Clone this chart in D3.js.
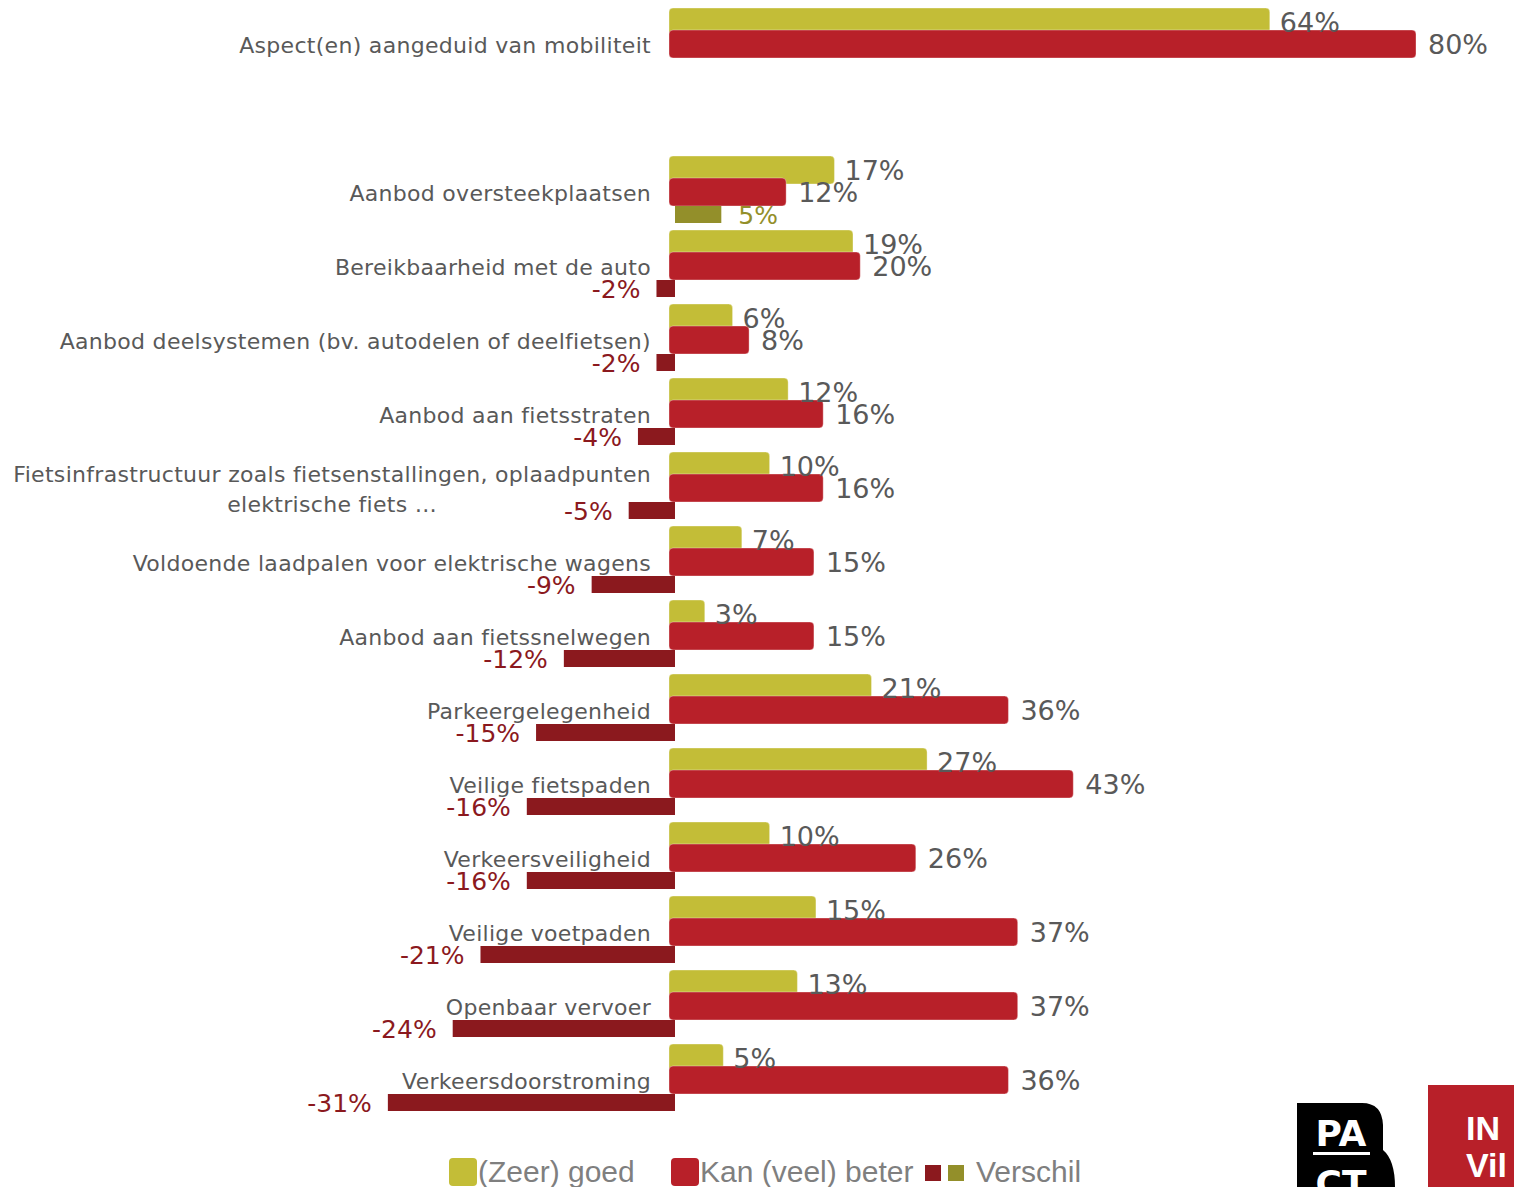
<!DOCTYPE html>
<html>
<head>
<meta charset="utf-8">
<script src="https://cdn.jsdelivr.net/npm/d3@7"></script>
<style>
  html, body { margin: 0; padding: 0; background: #fff; }
  svg { display: block; }
</style>
</head>
<body>
<svg id="chart" width="1514" height="1187"></svg>
<script>
// ---- Data ----
const categories = [
  "Aspect(en) aangeduid van mobiliteit",
  "Aanbod oversteekplaatsen",
  "Bereikbaarheid met de auto",
  "Aanbod deelsystemen (bv. autodelen of deelfietsen)",
  "Aanbod aan fietsstraten",
  "Fietsinfrastructuur zoals fietsenstallingen, oplaadpunten|elektrische fiets …",
  "Voldoende laadpalen voor elektrische wagens",
  "Aanbod aan fietssnelwegen",
  "Parkeergelegenheid",
  "Veilige fietspaden",
  "Verkeersveiligheid",
  "Veilige voetpaden",
  "Openbaar vervoer",
  "Verkeersdoorstroming"
];
const goed   = [64, 17, 19, 6, 12, 10, 7, 3, 21, 27, 10, 15, 13, 5];
const beter  = [80, 12, 20, 8, 16, 16, 15, 15, 36, 43, 26, 37, 37, 36];
const verschil = [null, 5, -2, -2, -4, -5, -9, -12, -15, -16, -16, -21, -24, -31];
const legendLabels = ["(Zeer) goed", "Kan (veel) beter", "Verschil"];

// ---- Styles ----
const C_GOED = "#C3BD37";
const C_BETER = "#B82029";
const C_NEG = "#8B191E";
const C_POS = "#938F2A";
const C_TEXT = "#595959";

const svg = d3.select("#chart");

// rows: first category, then one empty spacer row, then the rest
const rowKeys = [categories[0], "__gap__", ...categories.slice(1)];
const y = d3.scaleBand().domain(rowKeys).range([8, 8 + 74 * rowKeys.length]).padding(0);
const x = d3.scaleLinear().domain([0, 80]).range([675, 1416]);

const data = categories.map((c, i) => ({ cat: c, goed: goed[i], beter: beter[i], diff: verschil[i] }));

const g = svg.append("g");

const rows = g.selectAll("g.row").data(data).join("g")
  .attr("class", "row")
  .attr("transform", d => `translate(0,${y(d.cat)})`);

// goed bars
rows.append("rect")
  .attr("x", x(0) - 6)
  .attr("y", 0)
  .attr("width", d => x(d.goed) - x(0) + 8)
  .attr("height", 28)
  .attr("rx", 4)
  .attr("fill", C_GOED)
  .attr("stroke", "rgba(255,255,255,0.35)")
  .attr("stroke-width", 1);

// beter bars
rows.append("rect")
  .attr("x", x(0) - 6)
  .attr("y", 22)
  .attr("width", d => x(d.beter) - x(0) + 6)
  .attr("height", 28)
  .attr("rx", 4)
  .attr("fill", C_BETER)
  .attr("stroke", "rgba(255,255,255,0.35)")
  .attr("stroke-width", 1);

// diff bars
rows.filter(d => d.diff !== null).append("rect")
  .attr("x", d => Math.min(x(0), x(d.diff)))
  .attr("y", 50)
  .attr("width", d => Math.abs(x(d.diff) - x(0)))
  .attr("height", 17)
  .attr("fill", d => d.diff < 0 ? C_NEG : C_POS);

// value labels
rows.append("text")
  .attr("x", d => x(d.goed) + 12)
  .attr("y", 14)
  .attr("dy", "0.36em")
  .attr("font-family", "DejaVu Sans")
  .attr("font-size", 27)
  .attr("fill", C_TEXT)
  .text(d => d.goed + "%");

rows.append("text")
  .attr("x", d => x(d.beter) + 12)
  .attr("y", 36)
  .attr("dy", "0.36em")
  .attr("font-family", "DejaVu Sans")
  .attr("font-size", 27)
  .attr("fill", C_TEXT)
  .text(d => d.beter + "%");

rows.filter(d => d.diff !== null).append("text")
  .attr("x", d => d.diff < 0 ? x(d.diff) - 16 : x(d.diff) + 17)
  .attr("y", 58.5)
  .attr("dy", "0.36em")
  .attr("text-anchor", d => d.diff < 0 ? "end" : "start")
  .attr("font-family", "DejaVu Sans")
  .attr("font-size", 25)
  .attr("fill", d => d.diff < 0 ? C_NEG : C_POS)
  .text(d => d.diff + "%");

// category labels
rows.each(function(d) {
  const sel = d3.select(this);
  const lines = d.cat.split("|");
  const fontAttrs = t => t.attr("font-family", "DejaVu Sans").attr("font-size", 22)
    .attr("letter-spacing", 0.3).attr("fill", C_TEXT);
  if (lines.length === 1) {
    sel.append("text").call(fontAttrs)
      .attr("x", 651).attr("y", 37).attr("dy", "0.36em")
      .attr("text-anchor", "end").text(lines[0]);
  } else {
    const t1 = sel.append("text").call(fontAttrs)
      .attr("x", 651).attr("y", 22).attr("dy", "0.36em")
      .attr("text-anchor", "end").text(lines[0]);
    const w = t1.node().getComputedTextLength();
    sel.append("text").call(fontAttrs)
      .attr("x", 651 - w / 2).attr("y", 52).attr("dy", "0.36em")
      .attr("text-anchor", "middle").text(lines[1]);
  }
});

// ---- Legend ----
const lg = svg.append("g");
lg.append("rect").attr("x", 449).attr("y", 1158).attr("width", 28).attr("height", 28).attr("rx", 4).attr("fill", C_GOED);
lg.append("text").attr("x", 478).attr("y", 1182).attr("font-family", "Liberation Sans").attr("font-size", 30).attr("fill", "#7F7F7F").text(legendLabels[0]);
lg.append("rect").attr("x", 671).attr("y", 1158).attr("width", 28).attr("height", 28).attr("rx", 4).attr("fill", C_BETER);
lg.append("text").attr("x", 700).attr("y", 1182).attr("font-family", "Liberation Sans").attr("font-size", 30).attr("fill", "#7F7F7F").text(legendLabels[1]);
lg.append("rect").attr("x", 925).attr("y", 1165).attr("width", 16).attr("height", 16).attr("fill", C_NEG);
lg.append("rect").attr("x", 948).attr("y", 1165).attr("width", 16).attr("height", 16).attr("fill", C_POS);
lg.append("text").attr("x", 976).attr("y", 1182).attr("font-family", "Liberation Sans").attr("font-size", 30).attr("fill", "#7F7F7F").text(legendLabels[2]);

// ---- Logos ----
const logo = svg.append("g");
logo.append("path")
  .attr("d", "M1297,1103 L1362,1103 Q1382,1103 1383,1125 L1383,1150 Q1395,1160 1395,1187 L1297,1187 Z")
  .attr("fill", "#000");
logo.append("text").attr("x", 1341).attr("y", 1146).attr("text-anchor", "middle")
  .attr("font-family", "DejaVu Sans").attr("font-weight", "bold").attr("font-size", 36)
  .attr("fill", "#fff").text("PA");
logo.append("rect").attr("x", 1313).attr("y", 1152).attr("width", 57).attr("height", 3).attr("fill", "#fff");
logo.append("text").attr("x", 1341).attr("y", 1196).attr("text-anchor", "middle")
  .attr("font-family", "DejaVu Sans").attr("font-weight", "bold").attr("font-size", 36)
  .attr("fill", "#fff").text("CT");

logo.append("rect").attr("x", 1428).attr("y", 1085).attr("width", 86).attr("height", 102).attr("fill", "#B82029");
logo.append("text").attr("x", 1466).attr("y", 1140)
  .attr("font-family", "Liberation Sans Narrow, Liberation Sans").attr("font-weight", "bold").attr("font-size", 34)
  .attr("fill", "#fff").text("IN");
logo.append("text").attr("x", 1466).attr("y", 1177)
  .attr("font-family", "Liberation Sans Narrow, Liberation Sans").attr("font-weight", "bold").attr("font-size", 34)
  .attr("fill", "#fff").text("Vil");
</script>
</body>
</html>
